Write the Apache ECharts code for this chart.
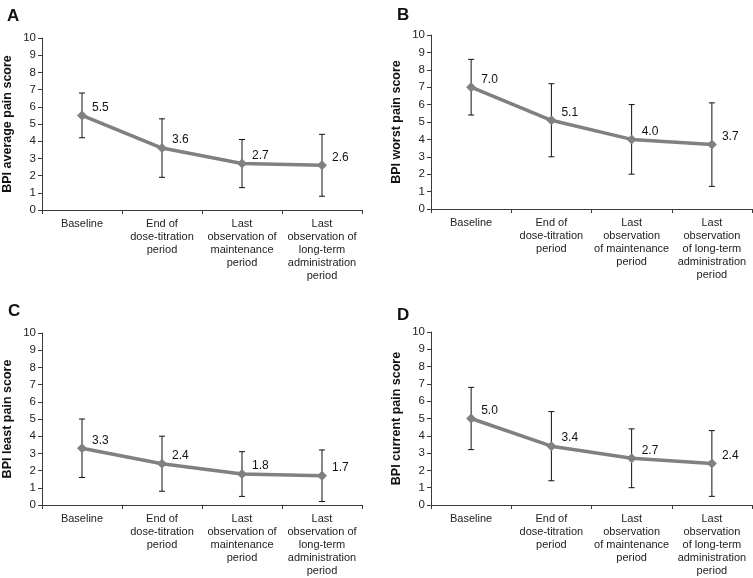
<!DOCTYPE html>
<html>
<head>
<meta charset="utf-8">
<script src="https://cdn.jsdelivr.net/npm/echarts@6/dist/echarts.min.js"></script>
<style>
html,body{margin:0;padding:0;background:#fff;}
#c{width:753px;height:578px;}
</style>
</head>
<body>
<div id="c"></div>
<script>
// ---- data ----
const catsAC = ['Baseline', 'End of\ndose-titration\nperiod', 'Last\nobservation of\nmaintenance\nperiod', 'Last\nobservation of\nlong-term\nadministration\nperiod'];
const catsBD = ['Baseline', 'End of\ndose-titration\nperiod', 'Last\nobservation\nof maintenance\nperiod', 'Last\nobservation\nof long-term\nadministration\nperiod'];
const yTicks = [0,1,2,3,4,5,6,7,8,9,10];

const avgMean = [5.5, 3.6, 2.7, 2.6];
const avgHigh = [6.8, 5.3, 4.1, 4.4];
const avgLow  = [4.2, 1.9, 1.3, 0.8];

const worstMean = [7.0, 5.1, 4.0, 3.7];
const worstHigh = [8.6, 7.2, 6.0, 6.1];
const worstLow  = [5.4, 3.0, 2.0, 1.3];

const leastMean = [3.3, 2.4, 1.8, 1.7];
const leastHigh = [5.0, 4.0, 3.1, 3.2];
const leastLow  = [1.6, 0.8, 0.5, 0.2];

const currMean = [5.0, 3.4, 2.7, 2.4];
const currHigh = [6.8, 5.4, 4.4, 4.3];
const currLow  = [3.2, 1.4, 1.0, 0.5];

const panelLetters = ['A', 'B', 'C', 'D'];
const yNames = ['BPI average pain score', 'BPI worst pain score', 'BPI least pain score', 'BPI current pain score'];

// ---- layout / style ----
const panels = [
  {cats: catsAC, mean: avgMean, hi: avgHigh, lo: avgLow, grid: {left: 41, top: 38, width: 321, height: 172}, letter: {left: 2, top: 3}},
  {cats: catsBD, mean: worstMean, hi: worstHigh, lo: worstLow, grid: {left: 431, top: 35, width: 321, height: 174}, letter: {left: 392, top: 2}},
  {cats: catsAC, mean: leastMean, hi: leastHigh, lo: leastLow, grid: {left: 41, top: 333, width: 321, height: 172}, letter: {left: 3, top: 298}},
  {cats: catsBD, mean: currMean, hi: currHigh, lo: currLow, grid: {left: 431, top: 332, width: 321, height: 173}, letter: {left: 392, top: 302}}
];

const FONT = '"Liberation Sans", Arial, Helvetica, sans-serif';
const axisColor = '#3a3a3a';
const textColor = '#222';

const option = {
  animation: false,
  backgroundColor: '#fff',
  title: panels.map((p, i) => ({
    text: panelLetters[i], left: p.letter.left, top: p.letter.top,
    textStyle: {fontFamily: FONT, fontSize: 17, fontWeight: 'bold', color: '#111'}
  })),
  grid: panels.map(p => Object.assign({}, p.grid)),
  xAxis: panels.map((p, i) => ({
    type: 'category', gridIndex: i, data: p.cats, boundaryGap: true,
    axisLine: {lineStyle: {color: axisColor, width: 1}},
    axisTick: {show: true, length: 4, lineStyle: {color: axisColor}},
    axisLabel: {fontFamily: FONT, fontSize: 11, color: textColor, lineHeight: 13, margin: 7, interval: 0}
  })),
  yAxis: panels.map((p, i) => ({
    type: 'value', gridIndex: i, min: 0, max: 10, interval: 1,
    name: yNames[i], nameLocation: 'middle', nameGap: 28,
    nameTextStyle: {fontFamily: FONT, fontSize: 12.5, fontWeight: 'bold', color: '#111'},
    splitLine: {show: false},
    axisLine: {show: true, lineStyle: {color: axisColor, width: 1}},
    axisTick: {show: true, length: 4, lineStyle: {color: axisColor}},
    axisLabel: {fontFamily: FONT, fontSize: 11.5, color: textColor, margin: 6,
      formatter: v => yTicks.indexOf(v) >= 0 ? String(v) : ''}
  })),
  series: []
};

panels.forEach((p, i) => {
  option.series.push({
    type: 'custom', xAxisIndex: i, yAxisIndex: i, z: 1,
    data: p.cats.map((c, k) => [k, p.lo[k], p.hi[k]]),
    renderItem: function (params, api) {
      const x = api.value(0);
      const lo = api.coord([x, api.value(1)]);
      const hi = api.coord([x, api.value(2)]);
      const cw = 3;
      const st = {stroke: '#111', lineWidth: 1};
      return {type: 'group', children: [
        {type: 'line', shape: {x1: hi[0], y1: hi[1], x2: lo[0], y2: lo[1]}, style: st},
        {type: 'line', shape: {x1: hi[0]-cw, y1: hi[1], x2: hi[0]+cw, y2: hi[1]}, style: st},
        {type: 'line', shape: {x1: lo[0]-cw, y1: lo[1], x2: lo[0]+cw, y2: lo[1]}, style: st}
      ]};
    }
  });
  option.series.push({
    type: 'line', xAxisIndex: i, yAxisIndex: i, z: 3,
    data: p.mean,
    symbol: 'diamond', symbolSize: 10,
    lineStyle: {color: '#808080', width: 3.5},
    itemStyle: {color: '#808080'},
    label: {show: true, position: 'right', distance: 5, offset: [0, -8],
      fontFamily: FONT, fontSize: 12, color: '#111',
      formatter: d => d.value.toFixed(1)}
  });
});

const chart = echarts.init(document.getElementById('c'), null, {renderer: 'canvas'});
chart.setOption(option);
</script>
</body>
</html>
